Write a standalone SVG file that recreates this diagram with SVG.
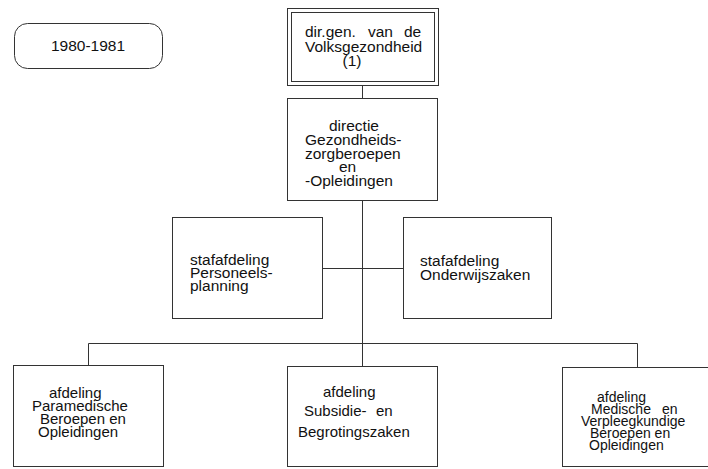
<svg xmlns="http://www.w3.org/2000/svg" width="708" height="469" viewBox="0 0 708 469">
<style>
  .box { fill: #ffffff; stroke: #333; stroke-width: 1; }
  .ln { fill: none; stroke: #333; stroke-width: 1; }
  text { font-family: "Liberation Sans", Arial, sans-serif; font-size: 15.5px; fill: #111; }
  .sm { font-size: 15px; }
  .xs { font-size: 14px; }
</style>
<rect width="708" height="469" fill="#ffffff"/>
<g id="connectors">
  <line class="ln" x1="362.5" y1="85" x2="362.5" y2="98"/>
  <line class="ln" x1="362.5" y1="201" x2="362.5" y2="366"/>
  <line class="ln" x1="322" y1="268.5" x2="403" y2="268.5"/>
  <polyline class="ln" points="88.5,365 88.5,343.5 637.5,343.5 637.5,367"/>
</g>
<g id="period">
  <rect class="box" x="14.5" y="23.5" width="148" height="45" rx="13"/>
  <text x="88" y="51" text-anchor="middle">1980-1981</text>
</g>
<g id="dirgen">
  <rect class="box" x="287.5" y="8.5" width="151" height="77"/>
  <rect class="ln" x="291.5" y="12.5" width="143" height="69"/>
  <text x="305" y="37">dir.gen.</text>
  <text x="368" y="37">van</text>
  <text x="404" y="37">de</text>
  <text x="305" y="52">Volksgezondheid</text>
  <text x="352" y="66" text-anchor="middle">(1)</text>
</g>
<g id="directie">
  <rect class="box" x="287.5" y="98.5" width="150" height="102"/>
  <text x="329" y="131">directie</text>
  <text x="305" y="145">Gezondheids-</text>
  <text x="305" y="159">zorgberoepen</text>
  <text x="339" y="172">en</text>
  <text x="305" y="186">-Opleidingen</text>
</g>
<g id="staf-personeel">
  <rect class="box" x="172.5" y="217.5" width="150" height="101"/>
  <text x="190" y="265">stafafdeling</text>
  <text x="190" y="278">Personeels-</text>
  <text x="190" y="291">planning</text>
</g>
<g id="staf-onderwijs">
  <rect class="box" x="403.5" y="217.5" width="148" height="101"/>
  <text x="420" y="266">stafafdeling</text>
  <text x="420" y="280">Onderwijszaken</text>
</g>
<g id="afd-paramedisch">
  <rect class="box" x="13.5" y="365.5" width="150" height="101"/>
  <text class="sm" x="49" y="398">afdeling</text>
  <text class="sm" x="32" y="411">Paramedische</text>
  <text class="sm" x="40" y="424">Beroepen en</text>
  <text class="sm" x="38" y="437">Opleidingen</text>
</g>
<g id="afd-subsidie">
  <rect class="box" x="287.5" y="366.5" width="150" height="100"/>
  <text class="sm" x="323" y="397">afdeling</text>
  <text class="sm" x="304" y="416">Subsidie-</text>
  <text class="sm" x="376" y="416">en</text>
  <text class="sm" x="298" y="437">Begrotingszaken</text>
</g>
<g id="afd-medisch">
  <rect class="box" x="562.5" y="367.5" width="150" height="99"/>
  <text class="xs" x="597" y="402">afdeling</text>
  <text class="xs" x="591" y="414">Medische</text>
  <text class="xs" x="662" y="414">en</text>
  <text class="xs" x="581" y="426">Verpleegkundige</text>
  <text class="xs" x="590" y="438">Beroepen en</text>
  <text class="xs" x="589" y="450">Opleidingen</text>
</g>
</svg>
